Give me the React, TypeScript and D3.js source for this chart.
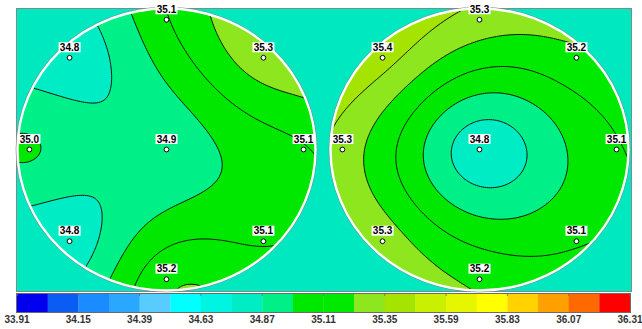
import React, { useMemo } from "react";
import * as d3 from "d3";

// measurement sites, in reading order: top, upper-left, upper-right, left, centre, right, lower-left, lower-right, bottom
const siteNames = ["T", "UL", "UR", "L", "C", "R", "LL", "LR", "B"];
const leftWaferValues = [35.1, 34.8, 35.3, 35.0, 34.9, 35.1, 34.8, 35.1, 35.2];
const rightWaferValues = [35.3, 35.4, 35.2, 35.3, 34.8, 35.1, 35.3, 35.1, 35.2];

// colour scale
const scaleMin = 33.91;
const scaleMax = 36.31;
const legendTicks = [33.91, 34.15, 34.39, 34.63, 34.87, 35.11, 35.35, 35.59, 35.83, 36.07, 36.31];
const bandColors = [
    "#0000ee", "#0a5cf2", "#1a8cff", "#2aa8ff", "#58ccff",
    "#00ffff", "#00f4e2", "#00ecc4", "#00f088", "#00e800",
    "#00ea00", "#8ee61e", "#a4e400", "#c8f000", "#e6f600",
    "#ffff00", "#ffd200", "#ffa000", "#ff6a00", "#ff0000",
];

const W = 642;
const H = 329;
const panel = { x: 16.5, y: 8.5, w: 615, h: 283 };
const bar = { x0: 17, x1: 630, y: 294, h: 18 };
const waferRx = 149;
const waferRy = 141;
const waferCy = 149.5;
const siteR = 0.92;

const dirs: Record<string, [number, number]> = {
    T: [0, -1],
    UL: [-Math.SQRT1_2, -Math.SQRT1_2],
    UR: [Math.SQRT1_2, -Math.SQRT1_2],
    L: [-1, 0],
    C: [0, 0],
    R: [1, 0],
    LL: [-Math.SQRT1_2, Math.SQRT1_2],
    LR: [Math.SQRT1_2, Math.SQRT1_2],
    B: [0, 1],
};

// multiquadric surface through the sites (plus a linear trend)
const MQ = 0.3;
function fitSurface(pts: [number, number][], vals: number[]) {
    const n = pts.length;
    const N = n + 3;
    const U = (r2: number) => Math.sqrt(r2 + MQ * MQ);
    const A = Array.from({ length: N }, () => new Array(N + 1).fill(0));
    for (let i = 0; i < n; i++) {
        for (let j = 0; j < n; j++) {
            const dx = pts[i][0] - pts[j][0];
            const dy = pts[i][1] - pts[j][1];
            A[i][j] = U(dx * dx + dy * dy);
        }
        A[i][n] = A[n][i] = 1;
        A[i][n + 1] = A[n + 1][i] = pts[i][0];
        A[i][n + 2] = A[n + 2][i] = pts[i][1];
        A[i][N] = vals[i];
    }
    for (let c = 0; c < N; c++) {
        let p = c;
        for (let r = c + 1; r < N; r++) if (Math.abs(A[r][c]) > Math.abs(A[p][c])) p = r;
        [A[c], A[p]] = [A[p], A[c]];
        for (let r = 0; r < N; r++) {
            if (r === c) continue;
            const f = A[r][c] / A[c][c];
            for (let k = c; k <= N; k++) A[r][k] -= f * A[c][k];
        }
    }
    const w = A.map((row, i) => row[N] / row[i]);
    return (x: number, y: number) => {
        let s = w[n] + w[n + 1] * x + w[n + 2] * y;
        for (let i = 0; i < n; i++) {
            const dx = x - pts[i][0];
            const dy = y - pts[i][1];
            s += w[i] * U(dx * dx + dy * dy);
        }
        return s;
    };
}

const GRID = 160;
const LO = -1.06;
const HI = 1.06;

const Wafer = ({ id, cx, values }: { id: string; cx: number; values: number[] }) => {
    const x = d3.scaleLinear([-1, 1], [cx - waferRx, cx + waferRx]);
    const y = d3.scaleLinear([-1, 1], [waferCy - waferRy, waferCy + waferRy]);
    const pts = siteNames.map((s) => [dirs[s][0] * siteR, dirs[s][1] * siteR] as [number, number]);

    const { fills, lines } = useMemo(() => {
        const f = fitSurface(pts, values);
        const step = (HI - LO) / GRID;
        const grid = new Array(GRID * GRID);
        for (let j = 0; j < GRID; j++)
            for (let i = 0; i < GRID; i++)
                grid[i + j * GRID] = f(LO + (i + 0.5) * step, LO + (j + 0.5) * step);
        const thresholds = d3.range(bandColors.length).map((i) => scaleMin + (i * (scaleMax - scaleMin)) / bandColors.length);
        const cs = d3.contours().size([GRID, GRID]).thresholds(thresholds)(grid);
        const proj = d3.geoTransform({
            point(px: number, py: number) {
                (this as any).stream.point(x(LO + px * step), y(LO + py * step));
            },
        });
        const path = d3.geoPath(proj);
        const [mn, mx] = d3.extent(grid) as [number, number];
        return {
            fills: cs.map((c: any, i: number) => ({ d: path(c), color: bandColors[i] })),
            lines: cs.filter((c: any) => c.value > mn && c.value < mx).map((c: any) => path(c)),
        };
    }, [cx, values]);

    return (
        <g>
            <defs>
                <clipPath id={id}>
                    <ellipse cx={cx} cy={waferCy} rx={waferRx} ry={waferRy} />
                </clipPath>
            </defs>
            <g clipPath={`url(#${id})`}>
                {fills.map((c, i) => (
                    // eslint-disable-next-line react/no-array-index-key
                    <path key={i} d={c.d || ""} fill={c.color} />
                ))}
                {lines.map((d, i) => (
                    // eslint-disable-next-line react/no-array-index-key
                    <path key={i} d={d || ""} fill="none" stroke="#111" strokeWidth={1} />
                ))}
            </g>
            <ellipse cx={cx} cy={waferCy} rx={waferRx + 1.4} ry={waferRy + 1.4} fill="none" stroke="#7c8a88" strokeWidth={0.8} />
            <ellipse cx={cx} cy={waferCy} rx={waferRx} ry={waferRy} fill="none" stroke="#fff" strokeWidth={2.4} />
            {pts.map((p, i) => (
                // eslint-disable-next-line react/no-array-index-key
                <g key={i} transform={`translate(${x(p[0])},${y(p[1])})`}>
                    <rect x={-11} y={-15.5} width={22} height={10} fill="#fff" />
                    <text
                        y={-7}
                        textAnchor="middle"
                        fontSize={10}
                        fontWeight="bold"
                        fontFamily="'Liberation Sans', Arial, sans-serif"
                        fill="#000"
                    >
                        {values[i].toFixed(1)}
                    </text>
                    <circle r={2.4} fill="#fff" stroke="#000" strokeWidth={1} />
                </g>
            ))}
        </g>
    );
};

export default function App() {
    const bx = d3.scaleLinear([scaleMin, scaleMax], [bar.x0, bar.x1]);
    const bandW = (scaleMax - scaleMin) / bandColors.length;
    return (
        <svg width={W} height={H} style={{ position: "absolute", top: 0, left: 0, background: "#fff" }}>
            <rect x={panel.x} y={panel.y} width={panel.w} height={panel.h} fill="#00e8c0" stroke="#7d8c8a" strokeWidth={1} />
            <Wafer id="waferA" cx={166.5} values={leftWaferValues} />
            <Wafer id="waferB" cx={479.5} values={rightWaferValues} />
            <g>
                {bandColors.map((c, i) => (
                    <rect
                        // eslint-disable-next-line react/no-array-index-key
                        key={i}
                        x={bx(scaleMin + i * bandW)}
                        y={bar.y}
                        width={bx(scaleMin + (i + 1) * bandW) - bx(scaleMin + i * bandW) + 0.3}
                        height={bar.h}
                        fill={c}
                    />
                ))}
                <rect x={bar.x0 - 0.5} y={bar.y - 0.5} width={bar.x1 - bar.x0 + 1} height={bar.h + 1} fill="none" stroke="#6a6a6a" strokeWidth={1} />
                {legendTicks.map((t) => (
                    <g key={t} transform={`translate(${bx(t)},0)`}>
                        <line y1={bar.y} y2={bar.y + 2} stroke="#777" />
                        <text
                            y={bar.y + 29}
                            textAnchor="middle"
                            fontSize={10}
                            fontWeight="bold"
                            fontFamily="'Liberation Sans', Arial, sans-serif"
                            fill="#333"
                        >
                            {t.toFixed(2)}
                        </text>
                    </g>
                ))}
            </g>
        </svg>
    );
}
